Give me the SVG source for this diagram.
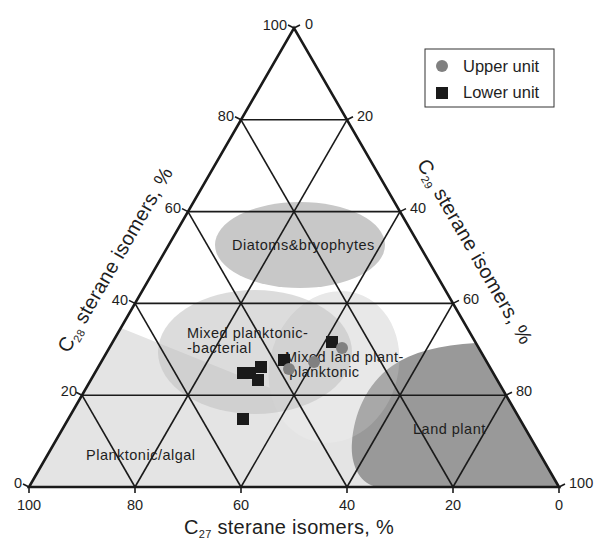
<svg xmlns="http://www.w3.org/2000/svg" width="595" height="541" viewBox="0 0 595 541">
<style>
text{font-family:"Liberation Sans",Arial,sans-serif;fill:#1e1e1e}
.num{font-size:14.5px}
.lab{font-size:14.5px;letter-spacing:0.5px}
.title{font-size:20px;letter-spacing:0.3px}
.sub{font-size:11px}
.grid line{stroke:#1a1a1a;stroke-width:1.6}
.tick line{stroke:#1a1a1a;stroke-width:1.6}
.sq{fill:#1a1a1a}
.ci{fill:#808080}
</style>
<defs>
<ellipse id="mlp" cx="334" cy="367" rx="64" ry="77" transform="rotate(18 334 367)"/>
</defs>
<rect width="595" height="541" fill="#fff"/>

<g id="region-planktonic-algal">
<path d="M29,487 L121,328 L300,400 Q372,418 400,487 Z" fill="#e4e4e4"/>
</g>
<g id="region-mixed-land-plant">
<use href="#mlp" fill="#e4e4e4"/>
</g>
<g id="region-land-plant">
<path d="M377,487 C360,484 350,465 352,442 C354,415 366,384 392,366 C412,352 440,345 476,343 L559,487 Z" fill="#999999"/>
<use href="#mlp" fill="#ffffff" fill-opacity="0.15"/>
</g>
<g id="region-mixed-planktonic-bacterial">
<ellipse cx="255" cy="352" rx="97" ry="62" fill="#c0c0c0" fill-opacity="0.55"/>
</g>
<g id="region-diatoms">
<ellipse cx="300" cy="245" rx="85" ry="43" fill="#c8c8c8"/>
</g>

<g id="connectors">
<g class="grid">
<line x1="82" y1="395.2" x2="506" y2="395.2"/>
<line x1="135" y1="303.4" x2="453" y2="303.4"/>
<line x1="188" y1="211.6" x2="400" y2="211.6"/>
<line x1="241" y1="119.8" x2="347" y2="119.8"/>
<line x1="135" y1="487" x2="82" y2="395.2"/>
<line x1="241" y1="487" x2="135" y2="303.4"/>
<line x1="347" y1="487" x2="188" y2="211.6"/>
<line x1="453" y1="487" x2="241" y2="119.8"/>
<line x1="135" y1="487" x2="347" y2="119.8"/>
<line x1="241" y1="487" x2="400" y2="211.6"/>
<line x1="347" y1="487" x2="453" y2="303.4"/>
<line x1="453" y1="487" x2="506" y2="395.2"/>
</g>
<polygon points="29,487 559,487 294,28" fill="none" stroke="#1a1a1a" stroke-width="2.6" stroke-linejoin="miter"/>
<g class="tick">
<line x1="29" y1="487" x2="23" y2="484"/>
<line x1="82" y1="395.2" x2="76" y2="392.2"/>
<line x1="135" y1="303.4" x2="129" y2="300.4"/>
<line x1="188" y1="211.6" x2="182" y2="208.6"/>
<line x1="241" y1="119.8" x2="235" y2="116.8"/>
<line x1="294" y1="28" x2="288" y2="25"/>
<line x1="294" y1="28" x2="300" y2="25"/>
<line x1="347" y1="119.8" x2="353" y2="116.8"/>
<line x1="400" y1="211.6" x2="406" y2="208.6"/>
<line x1="453" y1="303.4" x2="459" y2="300.4"/>
<line x1="506" y1="395.2" x2="512" y2="392.2"/>
<line x1="559" y1="487" x2="565" y2="484"/>
<line x1="29" y1="487" x2="29" y2="493"/>
<line x1="135" y1="487" x2="135" y2="493"/>
<line x1="241" y1="487" x2="241" y2="493"/>
<line x1="347" y1="487" x2="347" y2="493"/>
<line x1="453" y1="487" x2="453" y2="493"/>
<line x1="559" y1="487" x2="559" y2="493"/>
</g>
</g>

<g id="axis-left-labels" class="num" text-anchor="end">
<text x="22" y="488">0</text>
<text x="77" y="396">20</text>
<text x="128" y="305">40</text>
<text x="181" y="213">60</text>
<text x="234" y="121">80</text>
<text x="287" y="30">100</text>
</g>
<g id="axis-right-labels" class="num">
<text x="305" y="29">0</text>
<text x="357" y="121">20</text>
<text x="410" y="213">40</text>
<text x="463" y="304">60</text>
<text x="516" y="396">80</text>
<text x="569" y="488">100</text>
</g>
<g id="axis-bottom-labels" class="num" text-anchor="middle">
<text x="29" y="510">100</text>
<text x="135" y="510">80</text>
<text x="241" y="510">60</text>
<text x="347" y="510">40</text>
<text x="453" y="510">20</text>
<text x="559" y="510">0</text>
</g>

<g id="title-bottom">
<text class="title" x="289" y="534" text-anchor="middle">C<tspan class="sub" dy="3.5">27</tspan><tspan dy="-3.5"> sterane isomers, %</tspan></text>
</g>
<g id="title-left">
<text class="title" text-anchor="middle" transform="translate(121 263) rotate(-60)">C<tspan class="sub" dy="4">28</tspan><tspan dy="-4"> sterane isomers, %</tspan></text>
</g>
<g id="title-right">
<text class="title" text-anchor="middle" transform="translate(469 255) rotate(60)">C<tspan class="sub" dy="4">29</tspan><tspan dy="-4"> sterane isomers, %</tspan></text>
</g>

<g id="label-diatoms"><text class="lab" x="232" y="250">Diatoms&amp;bryophytes</text></g>
<g id="label-mixed-planktonic-bacterial">
<text class="lab" x="187" y="338">Mixed planktonic-</text>
<text class="lab" x="187" y="353">-bacterial</text>
</g>
<g id="label-mixed-land-plant">
<text class="lab" x="285" y="362">Mixed land plant-</text>
<text class="lab" x="284" y="377">-planktonic</text>
</g>
<g id="label-planktonic-algal"><text class="lab" x="86" y="460">Planktonic/algal</text></g>
<g id="label-land-plant"><text class="lab" x="413" y="434">Land plant</text></g>

<g id="data-lower">
<rect class="sq" x="237" y="367" width="12" height="12"/>
<rect class="sq" x="244" y="367" width="12" height="12"/>
<rect class="sq" x="255" y="361" width="12" height="12"/>
<rect class="sq" x="252" y="374" width="12" height="12"/>
<rect class="sq" x="237" y="413" width="12" height="12"/>
<rect class="sq" x="278" y="354" width="12" height="12"/>
<rect class="sq" x="326" y="336" width="12" height="12"/>
</g>
<g id="data-upper">
<circle class="ci" cx="342" cy="348" r="6"/>
<circle class="ci" cx="314" cy="362" r="6"/>
<circle class="ci" cx="289" cy="369" r="6"/>
</g>

<g id="legend">
<rect x="425" y="49" width="129" height="58" fill="#fff" stroke="#333" stroke-width="1"/>
<circle class="ci" cx="442" cy="66" r="6"/>
<rect class="sq" x="436" y="87" width="12" height="12"/>
<text x="463" y="72" style="font-size:16.5px">Upper unit</text>
<text x="463" y="98" style="font-size:16.5px">Lower unit</text>
</g>
</svg>
